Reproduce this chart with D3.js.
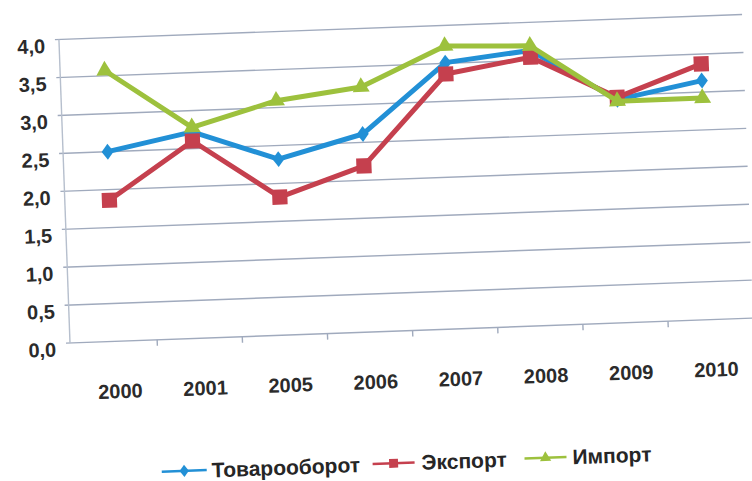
<!DOCTYPE html>
<html><head><meta charset="utf-8">
<script src="https://cdn.jsdelivr.net/npm/d3@7"></script>
<style>html,body{margin:0;padding:0;background:#fff;} svg{display:block;overflow:visible}</style>
</head><body>
<svg id="chart" width="752" height="481"></svg>
<script>
const categories = ["2000","2001","2005","2006","2007","2008","2009","2010"];
const turnover   = [2.50, 2.72, 2.32, 2.61, 3.51, 3.63, 2.94, 3.15];
const exportVals = [1.86, 2.60, 1.82, 2.19, 3.36, 3.54, 2.97, 3.37];
const importVals = [3.57, 2.78, 3.09, 3.23, 3.73, 3.69, 2.92, 2.92];
const yTicks = [0, 0.5, 1, 1.5, 2, 2.5, 3, 3.5, 4];
const seriesNames = ["Товарооборот", "Экспорт", "Импорт"];

const colors = ["#2290d6", "#c5404e", "#9dc13d"];
const FONT = "'Liberation Sans', Arial, sans-serif";

const svg = d3.select("#chart");
const pLeft = 70, pRight = 753.6, pTop = 39.3, pBottom = 343;
const g = svg.append("g").attr("transform", `rotate(-2.09 ${pLeft} ${pBottom})`);

const x = d3.scaleBand().domain(categories).range([pLeft + 2, pRight]);
const y = d3.scaleLinear().domain([0, 4]).range([pBottom, pTop]);
const cx = c => x(c) + x.bandwidth() / 2;

// diamond symbol (rhombus)
const diamond = (hw, hh) => ({ draw(ctx, size) {
  const k = Math.sqrt(size) / 10;
  ctx.moveTo(0, -hh * k); ctx.lineTo(hw * k, 0); ctx.lineTo(0, hh * k); ctx.lineTo(-hw * k, 0); ctx.closePath();
}});

// gridlines
g.append("g").selectAll("line").data(yTicks).join("line")
  .attr("x1", pLeft - 4).attr("x2", pRight)
  .attr("y1", d => y(d)).attr("y2", d => y(d))
  .attr("stroke", "#a0aabd").attr("stroke-width", 1.4);

// y axis line
g.append("line").attr("x1", pLeft).attr("x2", pLeft).attr("y1", y(4)).attr("y2", y(0))
  .attr("stroke", "#b6bfcd").attr("stroke-width", 1.4);

// x ticks
g.append("g").selectAll("line").data(categories.slice(1)).join("line")
  .attr("x1", d => x(d)).attr("x2", d => x(d))
  .attr("y1", y(0)).attr("y2", y(0) + 6)
  .attr("stroke", "#a0aabd").attr("stroke-width", 1.4);

// y labels
g.append("g").selectAll("text").data(yTicks).join("text")
  .attr("x", pLeft - 14).attr("y", d => y(d)).attr("dy", 13)
  .attr("text-anchor", "end")
  .attr("font-family", FONT).attr("font-weight", "bold").attr("font-size", 20)
  .attr("fill", "#2b2b2b")
  .text(d => d3.format(".1f")(d).replace(".", ","));

// x labels
g.append("g").selectAll("text").data(categories).join("text")
  .attr("x", d => cx(d) + 4).attr("y", 400)
  .attr("text-anchor", "middle")
  .attr("font-family", FONT).attr("font-weight", "bold").attr("font-size", 20)
  .attr("fill", "#2b2b2b")
  .text(d => d);

const series = [turnover, exportVals, importVals];
const symbols = [diamond(6, 8), d3.symbolSquare, d3.symbolTriangle];
const symSizes = [100, 230, 125];

const line = d3.line().x((d, i) => cx(categories[i])).y(d => y(d));

series.forEach((vals, s) => {
  const sg = g.append("g");
  sg.append("path").datum(vals).attr("d", line)
    .attr("fill", "none").attr("stroke", colors[s]).attr("stroke-width", 5)
    .attr("stroke-linejoin", "round");
  sg.selectAll("path.m").data(vals).join("path").attr("class", "m")
    .attr("transform", (d, i) => `translate(${cx(categories[i])},${y(d)})`)
    .attr("d", d3.symbol().type(symbols[s]).size(symSizes[s]))
    .attr("fill", colors[s]);
});

// legend
const legY = 475;
const legLineX = [[157, 202], [368, 410], [520, 562]];
const legTextX = [207, 417, 568];
const legSym = [60, 80, 55];
seriesNames.forEach((name, s) => {
  const lg = g.append("g");
  const [a, b] = legLineX[s];
  lg.append("line").attr("x1", a).attr("x2", b).attr("y1", legY).attr("y2", legY)
    .attr("stroke", colors[s]).attr("stroke-width", 2.5);
  lg.append("path").attr("transform", `translate(${(a + b) / 2},${legY})`)
    .attr("d", d3.symbol().type(symbols[s]).size(legSym[s])).attr("fill", colors[s]);
  lg.append("text").attr("x", legTextX[s]).attr("y", legY).attr("dy", "0.36em")
    .attr("font-family", FONT).attr("font-weight", "bold").attr("font-size", 21)
    .attr("fill", "#262626").text(name);
});
</script>
</body></html>
